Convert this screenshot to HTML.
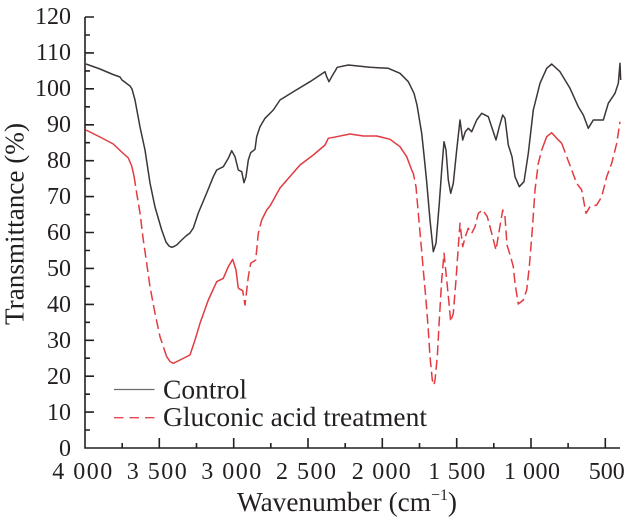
<!DOCTYPE html>
<html><head><meta charset="utf-8"><style>
html,body{margin:0;padding:0;background:#fff;}
svg{display:block;}
text{font-family:"Liberation Serif","DejaVu Serif",serif;fill:#231f20;}
</style></head><body>
<svg width="628" height="521" viewBox="0 0 628 521" xmlns="http://www.w3.org/2000/svg">
<g stroke="#231f20" stroke-width="1.6" fill="none">
<path d="M85,17 L85,448 L620,448"/>
<path d="M85,17h9M85,52.9h9M85,88.8h9M85,124.8h9M85,160.7h9M85,196.6h9M85,232.5h9M85,268.4h9M85,304.4h9M85,340.3h9M85,376.2h9M85,412.1h9"/>
<path d="M85,35h5M85,70.9h5M85,106.8h5M85,142.7h5M85,178.6h5M85,214.6h5M85,250.5h5M85,286.4h5M85,322.3h5M85,358.2h5M85,394.2h5M85,430h5"/>
<path d="M159.3,448v-10M233.7,448v-10M308,448v-10M382.3,448v-10M456.7,448v-10M531,448v-10M605.3,448v-10"/>
<path d="M122.2,448v-5M196.5,448v-5M270.8,448v-5M345.2,448v-5M419.5,448v-5M493.8,448v-5M568.1,448v-5"/>
</g>
<g font-size="24" text-anchor="end">
<text x="71" y="24">120</text>
<text x="71" y="60">110</text>
<text x="71" y="96">100</text>
<text x="71" y="132">90</text>
<text x="71" y="168">80</text>
<text x="71" y="204">70</text>
<text x="71" y="240">60</text>
<text x="71" y="276">50</text>
<text x="71" y="312">40</text>
<text x="71" y="348">30</text>
<text x="71" y="384">20</text>
<text x="71" y="420">10</text>
<text x="71" y="456">0</text>
</g>
<g font-size="24" text-anchor="middle">
<text x="82.2" y="479" textLength="60" lengthAdjust="spacing">4 000</text>
<text x="156.7" y="479" textLength="60" lengthAdjust="spacing">3 500</text>
<text x="231.3" y="479" textLength="60" lengthAdjust="spacing">3 000</text>
<text x="306" y="479" textLength="60" lengthAdjust="spacing">2 500</text>
<text x="381.3" y="479" textLength="59" lengthAdjust="spacing">2 000</text>
<text x="456.7" y="479" textLength="57" lengthAdjust="spacing">1 500</text>
<text x="532" y="479" textLength="56" lengthAdjust="spacing">1 000</text>
<text x="606.7" y="479">500</text>
</g>
<text x="237" y="511" font-size="27.5" textLength="220" lengthAdjust="spacingAndGlyphs">Wavenumber (cm<tspan font-size="16" dy="-11">−1</tspan><tspan dy="11">)</tspan></text>
<text transform="translate(23.5,224) rotate(-90)" font-size="27.5" text-anchor="middle" textLength="202" lengthAdjust="spacingAndGlyphs">Transmittance (%)</text>
<line x1="114" y1="389.5" x2="154.5" y2="389.5" stroke="#6e6b6b" stroke-width="1.3"/>
<line x1="114" y1="417.7" x2="154.5" y2="417.7" stroke="#e8474d" stroke-width="1.4" stroke-dasharray="9.5 6"/>
<text x="163" y="398.5" font-size="27.5" textLength="84" lengthAdjust="spacingAndGlyphs">Control</text>
<text x="163" y="426" font-size="27.5" textLength="264" lengthAdjust="spacingAndGlyphs">Gluconic acid treatment</text>
<path fill="none" stroke="#3d3636" stroke-width="1.5" stroke-linejoin="round" d="M86,64 L100,69 L113,74.5 L120,77 L122,80 L126,83 L130,86 L132,89 L135,100 L140,127 L145,150 L150,183 L155,207 L161.7,230 L166,242 L169,246 L171.7,247.3 L174,246.5 L176.7,245 L181.7,240 L186,236 L190,233 L193.3,228 L198.3,213 L206.7,193 L213.3,176.7 L216.7,170 L223.3,166.7 L228.3,158.3 L231.7,150.7 L235,156.7 L238.3,170 L241.7,171.7 L244,182.7 L246,176.7 L248.3,160 L250.7,152.7 L255,149.3 L256.7,136.7 L260,126.7 L265,118.3 L273.3,110 L280,100 L293.3,91.7 L310,81.7 L325,71.7 L326.7,76.7 L329,81.7 L331.7,76.7 L337.3,67.3 L348.3,65 L370,67.3 L388.3,68.3 L400,73.3 L408.3,81.7 L414,93.3 L417,105 L421.7,133.3 L424,155 L426.7,182 L430,220 L433.3,251.7 L436,243.3 L439.3,203.3 L441.7,170 L444,141.7 L446,150 L448.3,180 L450.7,193.3 L453.3,183.3 L456.7,150 L460,120 L462.7,140 L465.3,131.7 L468.3,128.3 L471.7,131.7 L476.7,120 L481.7,113.3 L488.3,116.7 L492.7,130 L496,140 L499.3,126.7 L502.7,115 L505,118.3 L508.3,145 L512,156.7 L515,176.7 L519.3,186.7 L524,181.7 L528.3,153.3 L533.3,110 L540,83.3 L546.7,68.3 L551.7,64 L560,71.7 L570,88.3 L578.3,106.7 L583.3,115 L588.3,128.3 L593.3,120 L603.3,120 L608.3,103.3 L615,93.3 L618.3,83.3 L620,63.3 L620.7,80"/>
<g fill="none" stroke="#e23b40" stroke-width="1.5" stroke-linejoin="round">
<path d="M86,130 L100,137 L113.3,144 L121.7,152 L128.3,158 L131.7,166 L134,176"/>
<path d="M166.7,356.7 L170,361.5 L173.3,363.3 L180,360 L186,357 L190,355 L195,340 L200,323.3 L208.3,300 L216.7,281.7 L223.3,278.3 L228.3,266.7 L232.7,259.3 L236,270 L238.3,288.3"/>
<path d="M261.7,220 L266.7,210 L270,206 L280,188 L300,165 L313.3,155 L325,145 L328.3,138.3 L336.7,136.7 L350,134 L363.3,136 L376.7,136 L390,139.3 L400,146.7 L406.7,156.7 L411.7,170"/>
<path d="M541.7,150 L546.7,136.7 L551.7,132.7 L556.7,138.3 L561.7,143.3"/>
</g>
<g fill="none" stroke="#e23b40" stroke-width="1.5" stroke-linejoin="round" stroke-dasharray="10 4.5">
<path d="M134,176 L136.7,193.3 L140,213 L143.3,240 L146.7,263.3 L150,286.7 L155,313.3 L160,336.7 L166.7,356.7"/>
<path d="M238.3,288.3 L242.7,290.7 L245,305 L248.3,276.7 L250.7,263.3 L255.7,260 L258.3,233.3 L261.7,220"/>
<path d="M411.7,170 L413.3,173.3 L416,186.7 L418.3,213.3 L420.7,240 L423.3,270 L426,300 L428.3,330 L430,356.7 L432.3,380 L434,385 L435,380 L437.3,356.7 L439.3,320 L441.7,280 L444,253.3 L446.7,280 L448.7,300 L450.7,321.7 L453.3,313.3 L456,280 L458.3,246.7 L460,223.3 L462.7,246.7 L465.3,236.7 L468.3,228.3 L471.7,233.3 L475,226.7 L478.3,213.3 L482.7,210 L487.3,216.7 L491.7,233.3 L496,250 L499.3,230 L502.7,210 L505,216.7 L507,245 L511,258 L513.3,266.7 L515,283.3 L518.3,304 L523.3,300 L526.7,290 L529.3,266.7 L532.3,230 L535,190 L538.3,163.3 L541.7,150"/>
<path d="M561.7,143.3 L566.7,156.7 L571.7,170 L576.7,183.3 L581.7,190 L586,213.3 L590,206.7 L596.7,205 L601.7,196.7 L606.7,176.7 L611.7,163.3 L616.7,143.3 L620,121.7"/>
</g>
</svg>
</body></html>
